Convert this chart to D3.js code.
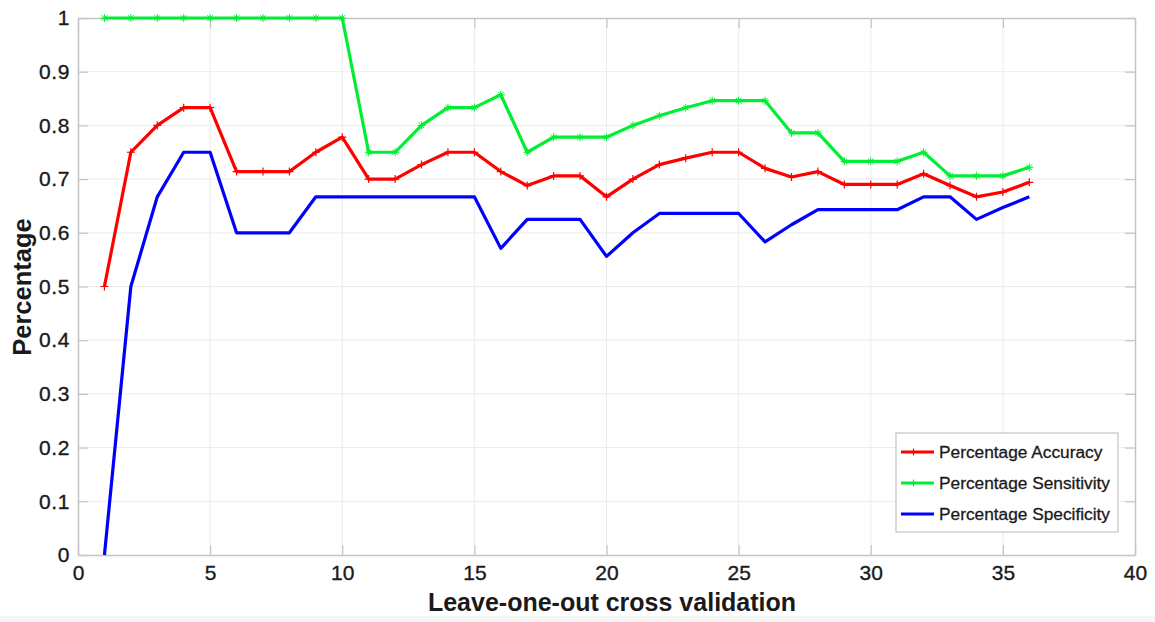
<!DOCTYPE html>
<html>
<head>
<meta charset="utf-8">
<script src="https://cdn.jsdelivr.net/npm/d3@7"></script>
<style>
  html, body { margin: 0; padding: 0; background: #fff; }
  svg { display: block; }
  text { font-family: "Liberation Sans", Arial, Helvetica, sans-serif; fill: #1a1a1a; }
</style>
</head>
<body>
<svg id="chart" width="1155" height="622"></svg>
<script>
// Fold index for each leave-one-out round
const folds = d3.range(1, 37);

const accuracy = [0.5, 0.75, 0.8, 0.833, 0.833, 0.714, 0.714, 0.714, 0.75, 0.778,
  0.7, 0.7, 0.727, 0.75, 0.75, 0.714, 0.688, 0.706, 0.706, 0.667,
  0.7, 0.727, 0.739, 0.75, 0.75, 0.72, 0.704, 0.714, 0.69, 0.69,
  0.69, 0.71, 0.688, 0.667, 0.676, 0.694];

const sensitivity = [1, 1, 1, 1, 1, 1, 1, 1, 1, 1,
  0.75, 0.75, 0.8, 0.833, 0.833, 0.857, 0.75, 0.778, 0.778, 0.778,
  0.8, 0.818, 0.833, 0.846, 0.846, 0.846, 0.786, 0.786, 0.733, 0.733,
  0.733, 0.75, 0.706, 0.706, 0.706, 0.722];

const specificity = [0, 0.5, 0.667, 0.75, 0.75, 0.6, 0.6, 0.6, 0.667, 0.667,
  0.667, 0.667, 0.667, 0.667, 0.667, 0.571, 0.625, 0.625, 0.625, 0.556,
  0.6, 0.636, 0.636, 0.636, 0.636, 0.583, 0.615, 0.643, 0.643, 0.643,
  0.643, 0.667, 0.667, 0.625, 0.647, 0.667];

const xTicks = [0, 5, 10, 15, 20, 25, 30, 35, 40];
const yTicks = [0, 0.1, 0.2, 0.3, 0.4, 0.5, 0.6, 0.7, 0.8, 0.9, 1];

const seriesNames = ["Percentage Accuracy", "Percentage Sensitivity", "Percentage Specificity"];
const seriesColors = ["#ff0000", "#00ee33", "#0000ff"];
const seriesMarkers = ["plus", "star", "none"];
const seriesValues = [accuracy, sensitivity, specificity];

const svg = d3.select("#chart");
const box = { left: 78, right: 1135, top: 18, bottom: 555 };

// Faint grey strip along the bottom edge of the figure
svg.append("rect").attr("x", 0).attr("y", 616).attr("width", 1155).attr("height", 6)
  .attr("fill", "#f6f6f6");

const x = d3.scaleLinear().domain([0, 40]).range([box.left, box.right]);
const y = d3.scaleLinear().domain([0, 1]).range([box.bottom, box.top]);

const axisColor = "#c4c4c4";
const gridColor = "#ececec";

// Grid lines
svg.append("g").selectAll("line").data(xTicks.slice(1, -1)).join("line")
  .attr("x1", d => x(d)).attr("x2", d => x(d))
  .attr("y1", box.top).attr("y2", box.bottom)
  .attr("stroke", gridColor).attr("stroke-width", 1);
svg.append("g").selectAll("line").data(yTicks.slice(1, -1)).join("line")
  .attr("x1", box.left).attr("x2", box.right)
  .attr("y1", d => y(d)).attr("y2", d => y(d))
  .attr("stroke", gridColor).attr("stroke-width", 1);

// Axes with inward ticks
const tickLen = 10;
const fmtY = d => d3.format("~g")(d);

const gx = svg.append("g").attr("transform", `translate(0,${box.bottom})`)
  .call(d3.axisBottom(x).tickValues(xTicks).tickSizeInner(-tickLen).tickSizeOuter(0).tickPadding(14));
const gxTop = svg.append("g").attr("transform", `translate(0,${box.top})`)
  .call(d3.axisTop(x).tickValues(xTicks).tickSizeInner(-tickLen).tickSizeOuter(0).tickFormat(""));
const gy = svg.append("g").attr("transform", `translate(${box.left},0)`)
  .call(d3.axisLeft(y).tickValues(yTicks).tickSizeInner(-tickLen).tickSizeOuter(0).tickPadding(8).tickFormat(fmtY));
const gyRight = svg.append("g").attr("transform", `translate(${box.right},0)`)
  .call(d3.axisRight(y).tickValues(yTicks).tickSizeInner(-tickLen).tickSizeOuter(0).tickFormat(""));

[gx, gxTop, gy, gyRight].forEach(g => {
  g.select(".domain").attr("stroke", axisColor).attr("stroke-width", 1.5);
  g.selectAll(".tick line").attr("stroke", axisColor).attr("stroke-width", 1.2);
  g.selectAll(".tick text")
    .attr("font-size", 21)
    .attr("font-family", "'Liberation Sans', Arial, sans-serif")
    .attr("fill", "#1a1a1a")
    .attr("stroke", "#1a1a1a").attr("stroke-width", 0.35);
});
gx.selectAll(".tick text").attr("dy", "0.5em");
gy.selectAll(".tick text").attr("letter-spacing", "0.6px");

// Series lines
const line = d3.line().x((d, i) => x(folds[i])).y(d => y(d));
const plotG = svg.append("g");

seriesValues.forEach((vals, s) => {
  plotG.append("path")
    .datum(vals)
    .attr("d", line)
    .attr("fill", "none")
    .attr("stroke", seriesColors[s])
    .attr("stroke-width", 3.2)
    .attr("stroke-linejoin", "round");

  const sz = 4;
  if (seriesMarkers[s] === "plus") {
    plotG.append("g").selectAll("path").data(vals).join("path")
      .attr("d", (d, i) => {
        const cx = x(folds[i]), cy = y(d);
        return `M${cx - sz},${cy}H${cx + sz}M${cx},${cy - sz}V${cy + sz}`;
      })
      .attr("stroke", seriesColors[s]).attr("stroke-width", 1.2).attr("fill", "none");
  } else if (seriesMarkers[s] === "star") {
    plotG.append("g").selectAll("path").data(vals).join("path")
      .attr("d", (d, i) => {
        const cx = x(folds[i]), cy = y(d), a = sz * 0.7;
        return `M${cx - sz},${cy}H${cx + sz}M${cx},${cy - sz}V${cy + sz}` +
               `M${cx - a},${cy - a}L${cx + a},${cy + a}M${cx - a},${cy + a}L${cx + a},${cy - a}`;
      })
      .attr("stroke", seriesColors[s]).attr("stroke-width", 1).attr("fill", "none");
  }
});

// Axis titles
svg.append("text")
  .attr("x", 612).attr("y", 611)
  .attr("text-anchor", "middle")
  .attr("font-size", 25).attr("font-weight", "bold")
  .text("Leave-one-out cross validation");

svg.append("text")
  .attr("transform", "translate(31,287) rotate(-90)")
  .attr("text-anchor", "middle")
  .attr("font-size", 25.5).attr("font-weight", "bold")
  .text("Percentage");

// Legend
const lg = svg.append("g").attr("transform", "translate(896,433)");
lg.append("rect").attr("width", 222).attr("height", 99)
  .attr("fill", "#fff").attr("stroke", "#b8b8b8").attr("stroke-width", 1);
seriesNames.forEach((name, s) => {
  const ly = 19 + s * 31;
  lg.append("line").attr("x1", 5).attr("x2", 38).attr("y1", ly).attr("y2", ly)
    .attr("stroke", seriesColors[s]).attr("stroke-width", 3);
  if (seriesMarkers[s] !== "none") {
    lg.append("path")
      .attr("d", `M17.5,${ly - 3.5}V${ly + 3.5}`)
      .attr("stroke", seriesColors[s]).attr("stroke-width", 1.2);
  }
  lg.append("text").attr("x", 43).attr("y", ly + 6)
    .attr("font-size", 17.3)
    .attr("stroke", "#1a1a1a").attr("stroke-width", 0.3)
    .text(name);
});
</script>
</body>
</html>
